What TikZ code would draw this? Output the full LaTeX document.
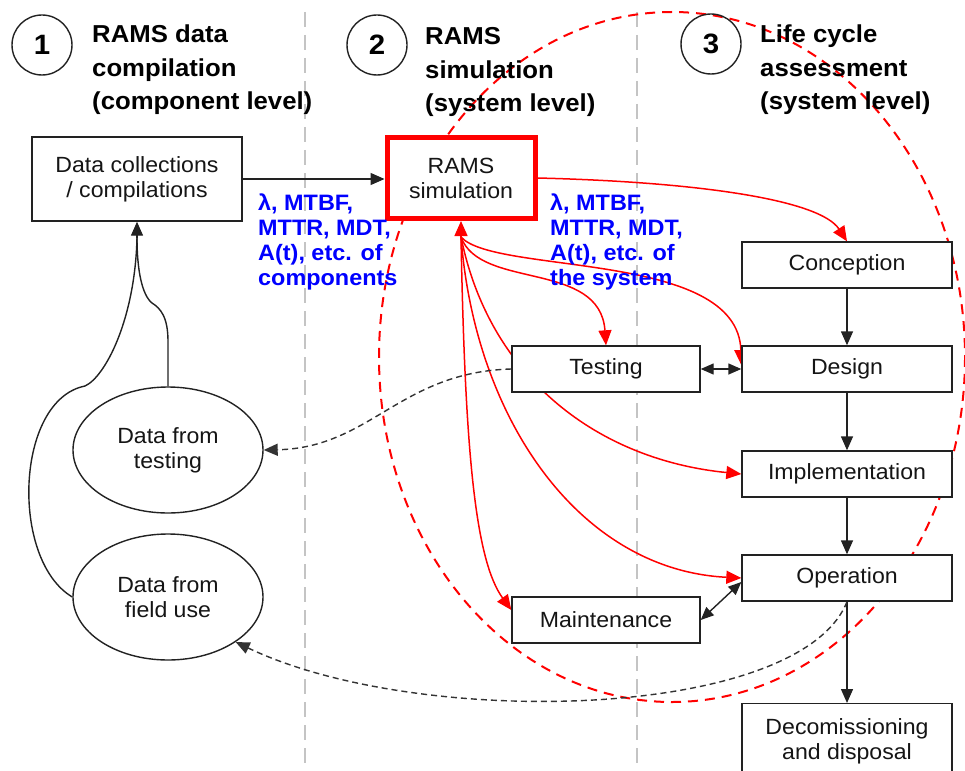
\documentclass[tikz,border=0pt]{standalone}
\usepackage{fontspec}
\setmainfont{Liberation Sans}[FakeStretch=1.05]
\usetikzlibrary{arrows.meta,calc,shapes.geometric}

\definecolor{boxline}{HTML}{222222}
\definecolor{txtdark}{HTML}{151515}
\definecolor{bluetxt}{HTML}{0000FF}
\definecolor{lanegray}{HTML}{C4C4C4}
\definecolor{redline}{HTML}{FF0000}
\definecolor{dashgray}{HTML}{333333}

\pgfdeclarelayer{background}
\pgfsetlayers{background,main}

\begin{document}
\begin{tikzpicture}[x=1pt,y=-1pt,
  stagebox/.style={draw=boxline, line width=1.4pt, fill=white, inner sep=0pt,
    align=center, text=txtdark, font=\fontsize{22}{25}\selectfont},
  databubble/.style={ellipse, draw=boxline, line width=1.4pt, fill=white,
    minimum width=190pt, minimum height=126pt, inner sep=0pt, align=center,
    text=txtdark, font=\fontsize{22}{25}\selectfont},
  numring/.style={circle, draw=boxline, line width=1.4pt, minimum size=60pt,
    inner sep=0pt, font=\bfseries\fontsize{28}{28}\selectfont},
  header/.style={anchor=north west, inner sep=0pt, align=left,
    font=\bfseries\fontsize{24.5}{33.5}\selectfont},
  params/.style={anchor=north west, inner sep=0pt, align=left, text=bluetxt,
    font=\bfseries\fontsize{22.3}{24.7}\selectfont},
  tip/.style={-{Triangle[length=14pt,width=12pt]}},
  flow/.style={draw=boxline, line width=1.4pt, tip},
  wire/.style={draw=boxline, line width=1.4pt},
  both/.style={draw=boxline, line width=1.4pt,
    {Triangle[length=13pt,width=11pt]}-{Triangle[length=13pt,width=11pt]}},
  feed/.style={draw=redline, line width=1.5pt, -{Triangle[length=15pt,width=13pt]}},
  backflow/.style={draw=dashgray, line width=1.4pt, dash pattern=on 6pt off 4pt, tip},
  lane/.style={draw=lanegray, line width=2pt, dash pattern=on 15pt off 8pt},
  scopering/.style={draw=redline, line width=2pt, dash pattern=on 10pt off 7pt},
]
\useasboundingbox (0,0) rectangle (965,770);

% column headings
\node[numring] (n1) at (42,45) {1};
\node[header] (h1) at (92,25) {RAMS data\\compilation\\(component level)};
\node[numring] (n2) at (377,45) {2};
\node[header] (h2) at (425,27.5) {RAMS\\simulation\\(system level)};
\node[numring] (n3) at (711,44) {3};
\node[header] (h3) at (760,25) {Life cycle\\assessment\\(system level)};

% boxes
\node[stagebox, minimum width=210pt, minimum height=84pt] (dc) at (137,179) {Data collections\\/ compilations};
\node[stagebox, draw=redline, line width=5pt, minimum width=148pt, minimum height=81pt] (rams) at (461,178) {RAMS\\simulation};
\node[stagebox, minimum width=210pt, minimum height=46pt] (conc) at (847,265) {Conception};
\node[stagebox, minimum width=210pt, minimum height=46pt] (design) at (847,369) {Design};
\node[stagebox, minimum width=188pt, minimum height=46pt] (testing) at (606,369) {Testing};
\node[stagebox, minimum width=210pt, minimum height=46pt] (impl) at (847,474) {Implementation};
\node[stagebox, minimum width=210pt, minimum height=46pt] (oper) at (847,578) {Operation};
\node[stagebox, minimum width=188pt, minimum height=46pt] (maint) at (606,620) {Maintenance};
\node[stagebox, minimum width=210pt, minimum height=76pt, anchor=north] (decom) at (847,703) {Decomissioning\\and disposal};

\node[databubble] (dt) at (168,450) {Data from\\testing};
\node[databubble] (fu) at (168,597) {Data from\\field use};

% parameter labels
\node[params] (pl) at (258,194) {λ, MTBF,\\MTTR, MDT,\\A(t), etc. of\\components};
\node[params] (pr) at (550,194) {λ, MTBF,\\MTTR, MDT,\\A(t), etc. of\\the system};

\begin{pgfonlayer}{background}
  % lane separators
  \coordinate (l1t) at (305,12);  \coordinate (l1b) at (305,770);
  \coordinate (l2t) at (637,12);  \coordinate (l2b) at (637,770);
  \draw[lane] (l1t) -- (l1b);
  \draw[lane] (l2t) -- (l2b);

  % system boundary of the simulation
  \draw[scopering] (672,357) ellipse [x radius=293, y radius=345];

  % data into the compilation box
  \coordinate (merge) at ($(dc.south)+(0,16)$);
  \draw[flow] (merge) -- (dc.south);
  \draw[wire] (fu.west) .. controls (10,560) and (15,400) .. (85,386)
              .. controls (105,377) and (135,320) .. (merge);
  \draw[wire] (dt.north) -- ++(0,-45) .. controls +(0,-25) and (160,308) .. (152,303)
              .. controls (142,295) and (137,270) .. (merge);

  \draw[flow] (dc.east) -- (dc.east -| rams.west);

  % simulation results fed to the life cycle
  \coordinate (hub) at ($(rams.south)+(0,16)$);
  \draw[feed] (hub) -- (rams.south);
  \draw[feed] (rams.east) .. controls (700,182) and (820,200) .. (conc.north);
  \draw[feed] (hub) .. controls (480,290) and (600,260) .. (testing.north);
  \draw[feed] (hub) .. controls (495,275) and (738,250) .. ($(design.west)+(0,-4)$);
  \draw[feed] (hub) .. controls (490,380) and (600,460) .. (impl.west);
  \draw[feed] (hub) .. controls (475,420) and (580,570) .. (oper.west);
  \draw[feed] (hub) .. controls (465,450) and (475,560) .. ($(maint.west)+(0,-10)$);

  % life cycle sequence
  \draw[flow] (conc) -- (design);
  \draw[flow] (design) -- (impl);
  \draw[flow] (impl) -- (oper);
  \draw[flow] (oper) -- (decom);
  \draw[both] (testing) -- (design);
  \draw[both] (maint.east) -- ($(oper.west)+(0,4)$);

  % field and test data returned
  \draw[backflow] (testing.west) .. controls (400,372) and (370,448) .. (dt.east);
  \draw[backflow] (oper.south) .. controls (800,720) and (420,730) .. (fu.south east);
\end{pgfonlayer}
\end{tikzpicture}
\end{document}
